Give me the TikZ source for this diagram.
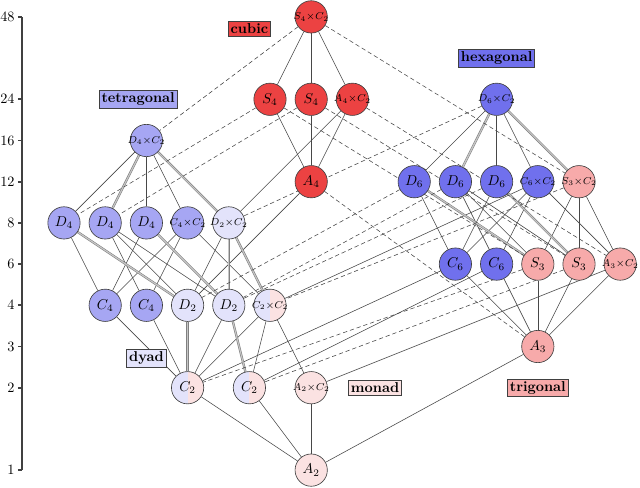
\documentclass[tikz,border=0pt]{standalone}
\usepackage{amsmath}
\usepackage{tikz}
\usetikzlibrary{positioning, backgrounds}

\definecolor{cubred}{RGB}{236,66,66}
\definecolor{tetblue}{RGB}{166,166,243}
\definecolor{hexblue}{RGB}{112,112,237}
\definecolor{orthblue}{RGB}{227,227,251}
\definecolor{trigpink}{RGB}{247,170,170}
\definecolor{triclpink}{RGB}{251,226,226}
\definecolor{edgegray}{RGB}{72,72,72}

\begin{document}
\begin{tikzpicture}[x=28.84pt, y=28.84pt,
    grp/.style={circle, draw=black!75, line width=0.45pt, minimum size=22.6pt, inner sep=0pt},
    prod/.style={font=\scriptsize, inner sep=-4pt},
    cub/.style={grp, fill=cubred},
    tet/.style={grp, fill=tetblue},
    hex/.style={grp, fill=hexblue},
    orth/.style={grp, fill=orthblue},
    trig/.style={grp, fill=trigpink},
    tric/.style={grp, fill=triclpink},
    mono/.style={grp, fill=orthblue, path picture={\fill[triclpink] (path picture bounding box.north) rectangle (path picture bounding box.south east);}},
    fam/.style={rectangle, draw=black!75, line width=0.45pt, inner sep=1.7pt, font=\bfseries},
    nedge/.style={draw=edgegray, line width=0.4pt},
    dedge/.style={nedge, dash pattern=on 3pt off 2pt},
    medge/.style={draw=gray, double=gray!45, double distance=0.8pt, line width=0.4pt}]
    \useasboundingbox (-1.553,-0.413) rectangle (13.98,11.41);

    % order axis
    \coordinate (axbot) at (-1.02,0);
    \coordinate (axtop) at (-1.02,11);
    \draw[line width=1.2pt, black!75] (axbot) -- (axtop);
    \foreach \v/\l in {1/0, 2/2, 3/3, 4/4, 6/5, 8/6, 12/7, 16/8, 24/9, 48/11} {
        \draw[line width=1.2pt, black!75] (-1.12,\l) -- (-1.02,\l);
        \node[anchor=east, inner sep=1.5pt] (ord\v) at (-1.14,\l) {$\v$};
    }

    % cubic
    \node[cub, prod] (oh) at (6,11) {$S_4{\times}C_2$};
    \node[cub] (o) at (5,9) {$S_4$};
    \node[cub] (td) at (6,9) {$S_4$};
    \node[cub, prod] (th) at (7,9) {$A_4{\times}C_2$};
    \node[cub] (t) at (6,7) {$A_4$};
    % tetragonal
    \node[tet, prod] (d4h) at (2,8) {$D_4{\times}C_2$};
    \node[tet] (d4) at (0,6) {$D_4$};
    \node[tet] (d2d) at (1,6) {$D_4$};
    \node[tet] (c4v) at (2,6) {$D_4$};
    \node[tet, prod] (c4h) at (3,6) {$C_4{\times}C_2$};
    \node[tet] (c4) at (1,4) {$C_4$};
    \node[tet] (s4) at (2,4) {$C_4$};
    % orthorhombic, monoclinic, triclinic
    \node[orth, prod] (d2h) at (4,6) {$D_2{\times}C_2$};
    \node[orth] (d2) at (3,4) {$D_2$};
    \node[orth] (c2v) at (4,4) {$D_2$};
    \node[mono, prod] (c2h) at (5,4) {$C_2{\times}C_2$};
    \node[mono] (c2) at (3,2) {$C_2$};
    \node[mono] (cs) at (4.5,2) {$C_2$};
    \node[tric, prod] (ci) at (6,2) {$A_2{\times}C_2$};
    \node[tric] (c1) at (6,0) {$A_2$};
    % hexagonal
    \node[hex, prod] (d6h) at (10.5,9) {$D_6{\times}C_2$};
    \node[hex] (d6) at (8.5,7) {$D_6$};
    \node[hex] (d3h) at (9.5,7) {$D_6$};
    \node[hex] (c6v) at (10.5,7) {$D_6$};
    \node[hex, prod] (c6h) at (11.5,7) {$C_6{\times}C_2$};
    \node[hex] (c6) at (9.5,5) {$C_6$};
    \node[hex] (c3h) at (10.5,5) {$C_6$};
    % trigonal
    \node[trig, prod] (d3d) at (12.5,7) {$S_3{\times}C_2$};
    \node[trig] (d3) at (11.5,5) {$S_3$};
    \node[trig] (c3v) at (12.5,5) {$S_3$};
    \node[trig, prod] (s6) at (13.5,5) {$A_3{\times}C_2$};
    \node[trig] (c3) at (11.5,3) {$A_3$};

    % family labels
    \node[fam, fill=cubred] (cubic) at (4.5,10.72) {cubic};
    \node[fam, fill=tetblue] (tetragonal) at (1.8,9) {tetragonal};
    \node[fam, fill=hexblue] (hexagonal) at (10.5,10) {hexagonal};
    \node[fam, fill=orthblue] (dyad) at (2,2.72) {dyad};
    \node[fam, fill=triclpink] (monad) at (7.55,2) {monad};
    \node[fam, fill=trigpink] (trigonal) at (11.5,2) {trigonal};

    \begin{scope}[on background layer]
        % normal subgroups
        \foreach \a/\b in {oh/o, oh/td, oh/th, o/t, td/t, th/t, th/d2h, t/d2,
            d4h/d4, d4h/c4v, d4h/c4h, c4h/c4, c4h/s4, c4h/c2h,
            d4/c4, d2d/s4, d2d/d2, d2d/c2v, c4v/c4, c4/c2, s4/c2,
            d2h/d2, c2v/c2, c2h/c2, c2h/cs, c2h/ci, c2/c1, cs/c1, ci/c1,
            d6h/d6, d6h/c6v, d6h/c6h, c6h/c6, c6h/c3h, c6h/s6, c6h/c2h,
            d6/c6, d3h/c3h, d3h/c3v, d3h/d3, c6v/c6,
            d3d/s6, d3d/d3, d3d/c3v, c6/c3, c3h/c3, d3/c3, c3v/c3, s6/c3,
            c6/c2, c3h/cs, s6/ci, c3/c1}
            \draw[nedge] (\a) -- (\b);
        % several subgroups of one kind
        \foreach \a/\b in {d4h/d2d, d4h/d2h, d4/d2, c4v/c2v, d2h/c2v, d2h/c2h, d2/c2, c2v/cs,
            d6h/d3h, d6h/d3d, d6/d3, c6v/c3v}
            \draw[medge] (\a) -- (\b);
        % non-normal subgroups
        \foreach \a/\b in {oh/d4h, oh/d3d, o/d4, o/d3, td/d2d, td/c3v, th/s6, t/c3,
            d6h/d2h, d6/d2, d3h/c2v, c6v/c2v, d3d/c2h, d3/c2, c3v/cs}
            \draw[dedge] (\a) -- (\b);
    \end{scope}
\end{tikzpicture}
\end{document}
